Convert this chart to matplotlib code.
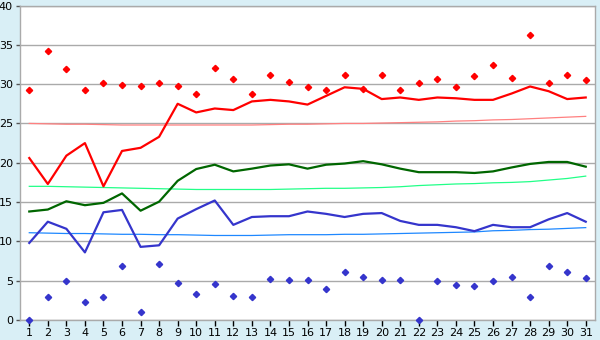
import matplotlib
matplotlib.use("Agg")
import matplotlib.pyplot as plt

days = list(range(1, 32))

max_daily = [29.2, 34.2, 31.9, 29.3, 30.2, 29.9, 29.8, 30.2, 29.8, 28.8,
             32.1, 30.7, 28.8, 31.2, 30.3, 29.6, 29.2, 31.2, 29.4, 31.2,
             29.2, 30.2, 30.7, 29.6, 31.0, 32.4, 30.8, 36.2, 30.2, 31.2, 30.5]
max_mean = [20.6, 17.3, 20.9, 22.5, 17.0, 21.5, 21.9, 23.3, 27.5, 26.4,
            26.9, 26.7, 27.8, 28.0, 27.8, 27.4, 28.5, 29.6, 29.4, 28.1,
            28.3, 28.0, 28.3, 28.2, 28.0, 28.0, 28.8, 29.7, 29.1, 28.1, 28.3]
max_normal = [25.0, 24.95, 24.9, 24.9, 24.85, 24.8, 24.8, 24.8, 24.8, 24.8,
              24.8, 24.8, 24.8, 24.85, 24.9, 24.9, 24.95, 25.0, 25.0, 25.05,
              25.1, 25.15, 25.2, 25.3, 25.35, 25.45, 25.5, 25.6, 25.7, 25.8, 25.9]
mean_temp = [13.8, 14.05, 15.1, 14.6, 14.9, 16.1, 13.9, 15.05, 17.7, 19.2,
             19.75, 18.9, 19.25, 19.65, 19.8, 19.25, 19.75, 19.9, 20.2, 19.8,
             19.25, 18.8, 18.8, 18.8, 18.7, 18.9, 19.4, 19.85, 20.1, 20.1, 19.5]
mean_normal = [17.0, 17.0, 16.95, 16.9, 16.85, 16.8, 16.75, 16.7, 16.65, 16.6,
               16.6, 16.6, 16.6, 16.6, 16.65, 16.7, 16.75, 16.75, 16.8, 16.85,
               16.95, 17.1, 17.2, 17.3, 17.35, 17.45, 17.5, 17.6, 17.8, 18.0, 18.3]
min_mean = [9.8, 12.5, 11.6, 8.6, 13.7, 14.0, 9.3, 9.5, 12.9, 14.1,
            15.2, 12.1, 13.1, 13.2, 13.2, 13.8, 13.5, 13.1, 13.5, 13.6,
            12.6, 12.1, 12.1, 11.8, 11.3, 12.1, 11.8, 11.8, 12.8, 13.6, 12.5]
min_normal = [11.1, 11.05, 11.0, 11.0, 10.95, 10.9, 10.9, 10.85, 10.85, 10.8,
              10.75, 10.75, 10.75, 10.8, 10.85, 10.85, 10.85, 10.9, 10.9, 10.95,
              11.0, 11.05, 11.1, 11.15, 11.2, 11.35, 11.4, 11.5, 11.55, 11.65, 11.75]
min_daily = [0.0, 2.95, 5.0, 2.3, 2.95, 6.9, 1.05, 7.1, 4.7, 3.3,
             4.6, 3.1, 2.95, 5.2, 5.1, 5.1, 4.0, 6.1, 5.5, 5.1,
             5.1, 0.0, 5.0, 4.4, 4.3, 5.0, 5.5, 2.95, 6.9, 6.1, 5.4]

y_ticks = [0, 5, 10, 15, 20, 25, 30, 35, 40]

bg = "#d9eff6"
fig = plt.figure(figsize=(6, 3.4), dpi=100, facecolor=bg)
ax = fig.add_axes([20/600, 1-320/340, 575/600, (320-5.5)/340])
ax.set_facecolor("white")

ax.plot(days, max_normal, color="#ff8080", lw=0.9, zorder=2)
ax.plot(days, mean_normal, color="#22ff88", lw=0.9, zorder=2)
ax.plot(days, min_normal, color="#1e88ff", lw=0.9, zorder=2)

ax.plot(days, max_mean, color="#ff0000", lw=1.6, zorder=3)
ax.plot(days, mean_temp, color="#006600", lw=1.6, zorder=3)
ax.plot(days, min_mean, color="#3535cc", lw=1.6, zorder=3)

ax.plot(days, max_daily, ls="none", marker="D", ms=3.2, color="#ff0000", zorder=4, clip_on=False)
ax.plot(days, min_daily, ls="none", marker="D", ms=3.2, color="#3535cc", zorder=4, clip_on=False)

ax.set_xlim(0.5, 31.5)
ax.set_ylim(0, 40)
ax.set_xticks(days)
ax.set_xticklabels([str(d) for d in days])
ax.set_yticks(y_ticks)
ax.set_yticklabels([str(v) for v in y_ticks])
ax.yaxis.grid(True, color="#aaaaaa", lw=1.0)
ax.set_axisbelow(True)
for s in ["left", "right", "top", "bottom"]:
    ax.spines[s].set_color("#aaaaaa")
    ax.spines[s].set_linewidth(1.0)
ax.tick_params(axis="x", direction="out", length=4, width=1, color="black",
               labelsize=8, pad=2)
ax.tick_params(axis="y", direction="out", length=3, width=1, color="#555555",
               labelsize=8, pad=2)

fig.savefig("out.png", dpi=100, facecolor=bg)
